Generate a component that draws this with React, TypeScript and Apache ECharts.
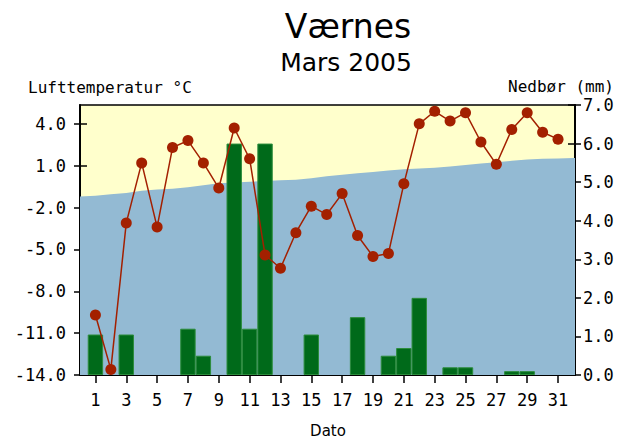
import React, { useEffect, useRef } from "react";
import * as echarts from "echarts";

const days = [1, 2, 3, 4, 5, 6, 7, 8, 9, 10, 11, 12, 13, 14, 15, 16, 17, 18, 19, 20, 21, 22, 23, 24, 25, 26, 27, 28, 29, 30, 31];
const temperature = [-9.7, -13.6, -3.1, 1.2, -3.4, 2.3, 2.8, 1.2, -0.6, 3.7, 1.5, -5.4, -6.35, -3.8, -1.9, -2.5, -1.0, -4.0, -5.5, -5.3, -0.3, 4.0, 4.9, 4.2, 4.8, 2.7, 1.1, 3.6, 4.8, 3.4, 2.9];
const precipitation = [1.05, 0, 1.05, 0, 0, 0, 1.2, 0.5, 0, 6.0, 1.2, 6.0, 0, 0, 1.05, 0, 0, 1.5, 0, 0.5, 0.7, 2.0, 0, 0.2, 0.2, 0, 0, 0.1, 0.1, 0, 0];
const normalDays = [0, 1, 2, 3, 4, 5, 6, 7, 8, 9, 10, 11, 12, 13, 14, 15, 16, 17, 18, 19, 20, 21, 22, 23, 24, 25, 26, 27, 28, 29, 30, 31, 32, 33];
const normalTemp = [-1.2, -1.15, -1.05, -0.95, -0.8, -0.7, -0.65, -0.55, -0.4, -0.25, -0.2, -0.15, -0.1, -0.05, 0.0, 0.1, 0.25, 0.35, 0.45, 0.55, 0.65, 0.75, 0.8, 0.85, 0.95, 1.05, 1.15, 1.25, 1.35, 1.45, 1.5, 1.52, 1.55, 1.55];
const tempTicks = [-14, -11, -8, -5, -2, 1, 4];
const precipTicks = [0, 1, 2, 3, 4, 5, 6, 7];
const dayTicks = [1, 3, 5, 7, 9, 11, 13, 15, 17, 19, 21, 23, 25, 27, 29, 31];

const monoLabel = { fontFamily: "DejaVu Sans Mono", fontSize: 17, color: "#000" };

export default function App() {
  const ref = useRef<HTMLDivElement>(null);
  useEffect(() => {
    if (!ref.current) return;
    const chart = echarts.init(ref.current, null, { renderer: "svg" });
    const grid = { left: 80, right: 49, top: 105, bottom: 64 };
    chart.setOption({
      animation: false,
      backgroundColor: "#fff",
      grid: { ...grid, show: true, backgroundColor: "#FFFFCC", borderColor: "#000", borderWidth: 1.5 },
      graphic: [
        { type: "text", x: 348, y: 26, style: { text: "Værnes", fontFamily: "DejaVu Sans", fontSize: 33, fill: "#000", align: "center", verticalAlign: "middle" } },
        { type: "text", x: 346, y: 62, style: { text: "Mars 2005", fontFamily: "DejaVu Sans", fontSize: 25, fill: "#000", align: "center", verticalAlign: "middle" } },
        { type: "text", x: 28, y: 87, style: { text: "Lufttemperatur °C", fontFamily: "DejaVu Sans Mono", fontSize: 16, fill: "#000", align: "left", verticalAlign: "middle" } },
        { type: "text", x: 561, y: 86, style: { text: "Nedbør (mm)", fontFamily: "DejaVu Sans Mono", fontSize: 16, fill: "#000", align: "center", verticalAlign: "middle" } },
        { type: "text", x: 328, y: 431, style: { text: "Dato", fontFamily: "DejaVu Sans", fontSize: 15, fill: "#000", align: "center", verticalAlign: "middle" } }
      ],
      xAxis: [
        {
          type: "value", min: 0, max: 32.1, position: "bottom",
          splitLine: { show: false },
          axisLine: { show: true, onZero: false, lineStyle: { color: "#000", width: 2 } },
          axisTick: { show: true, inside: false, length: 8, customValues: dayTicks, lineStyle: { color: "#000", width: 1.5 } },
          axisLabel: { show: true, margin: 16, customValues: dayTicks, ...monoLabel }
        },
        {
          type: "value", min: 0, max: 32.1, position: "bottom",
          splitLine: { show: false },
          axisLine: { show: false, onZero: false },
          axisTick: { show: true, inside: true, length: 7, customValues: dayTicks, lineStyle: { color: "#000", width: 1.5 } },
          axisLabel: { show: false }
        }
      ],
      yAxis: [
        {
          type: "value", min: -14, max: 5.35, position: "left",
          splitLine: { show: false },
          axisLine: { show: true, onZero: false, lineStyle: { color: "#000", width: 2 } },
          axisTick: { show: true, length: 6, customValues: tempTicks, lineStyle: { color: "#000", width: 1.5 } },
          axisLabel: { margin: 14, customValues: tempTicks, formatter: (v: number) => v.toFixed(1), ...monoLabel }
        },
        {
          type: "value", min: 0, max: 7, interval: 1, position: "right",
          splitLine: { show: false },
          axisLine: { show: true, onZero: false, lineStyle: { color: "#000", width: 2 } },
          axisTick: { show: true, length: 6, customValues: precipTicks, lineStyle: { color: "#000", width: 1.5 } },
          axisLabel: { margin: 8, customValues: precipTicks, formatter: (v: number) => v.toFixed(1), ...monoLabel }
        },
        {
          type: "value", min: -14, max: 5.35, position: "left",
          splitLine: { show: false },
          axisLine: { show: false, onZero: false },
          axisTick: { show: true, inside: true, length: 7, customValues: tempTicks, lineStyle: { color: "#000", width: 1.5 } },
          axisLabel: { show: false }
        },
        {
          type: "value", min: 0, max: 7, interval: 1, position: "right",
          splitLine: { show: false },
          axisLine: { show: false, onZero: false },
          axisTick: { show: true, inside: true, length: 7, customValues: precipTicks, lineStyle: { color: "#000", width: 1.5 } },
          axisLabel: { show: false }
        }
      ],
      series: [
        {
          name: "Normal",
          type: "line",
          xAxisIndex: 0,
          yAxisIndex: 0,
          data: normalDays.map((d, i) => [d, normalTemp[i]]),
          symbol: "none",
          lineStyle: { width: 0, color: "#93BAD3" },
          areaStyle: { color: "#93BAD3", opacity: 1, origin: "start" },
          clip: true,
          z: 1
        },
        {
          name: "Nedbør",
          type: "bar",
          xAxisIndex: 0,
          yAxisIndex: 1,
          barWidth: 15.4,
          data: days.map((d, i) => [d, precipitation[i]]).filter((p) => p[1] > 0),
          itemStyle: { color: "#006A1A", borderColor: "#2C8C3C", borderWidth: 1 },
          z: 2
        },
        {
          name: "Temperatur",
          type: "line",
          xAxisIndex: 0,
          yAxisIndex: 0,
          data: days.map((d, i) => [d, temperature[i]]),
          symbol: "circle",
          symbolSize: 11,
          lineStyle: { color: "#A32000", width: 1.5 },
          itemStyle: { color: "#A32000" },
          clip: false,
          z: 3
        }
      ]
    });
    return () => chart.dispose();
  }, []);
  return <div ref={ref} style={{ width: 624, height: 439, position: "absolute", left: 0, top: 0 }} />;
}
